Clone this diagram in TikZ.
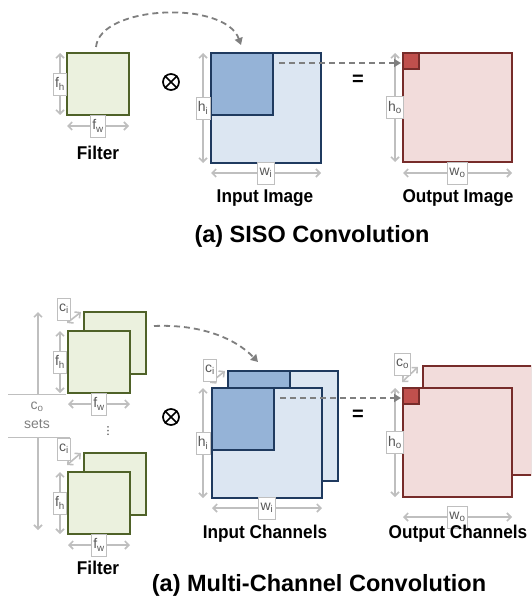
\documentclass[tikz,border=0pt]{standalone}
\usepackage{fontspec}
\setmainfont{Liberation Sans}
\newfontfamily\capfont{Liberation Sans}[FakeStretch=0.93]
\newfontfamily\djv{DejaVu Sans}
\usetikzlibrary{arrows.meta,calc}
\definecolor{fgfill}{HTML}{EBF1DE}
\definecolor{fgdraw}{HTML}{4F6228}
\definecolor{ibfill}{HTML}{DCE6F2}
\definecolor{ibin}{HTML}{95B3D7}
\definecolor{ibdraw}{HTML}{1F3A5F}
\definecolor{orfill}{HTML}{F2DCDB}
\definecolor{orin}{HTML}{C0504D}
\definecolor{ordraw}{HTML}{772C2A}
\definecolor{dimc}{HTML}{BFBFBF}
\definecolor{dashc}{HTML}{7F7F7F}
\definecolor{lblc}{HTML}{595959}
\begin{document}
\begin{tikzpicture}[x=1pt,y=-1pt,
 sqbox/.style={rectangle, anchor=north west, line width=1.8pt, inner sep=0pt, outer sep=0pt, minimum size=#1},
 filt/.style={sqbox=62pt, draw=fgdraw, fill=fgfill},
 inimg/.style={sqbox=110pt, draw=ibdraw, fill=ibfill},
 inpatch/.style={sqbox=62pt, draw=ibdraw, fill=ibin},
 outimg/.style={sqbox=109pt, draw=ordraw, fill=orfill},
 outpx/.style={sqbox=16pt, draw=ordraw, fill=orin},
 dimline/.style={draw=dimc, line width=1.6pt},
 dimarr/.style={dimline, {Straight Barb[length=4pt,width=8pt]}-{Straight Barb[length=4pt,width=8pt]}},
 dimone/.style={dimline, -{Straight Barb[length=4pt,width=8pt]}},
 lbl/.style={fill=white, draw=dimc, line width=0.7pt, inner xsep=1.8pt, inner ysep=1pt, minimum height=22pt, text=lblc, font=\fontsize{14}{14}\selectfont},
 dasharrow/.style={draw=dashc, line width=1.8pt, dash pattern=on 6pt off 4pt, -{Triangle[length=7pt,width=8pt]}},
 capt/.style={font=\capfont\bfseries\fontsize{18.5}{18.5}\selectfont},
 ttl/.style={font=\bfseries\fontsize{23.5}{23.5}\selectfont},
 otimesnode/.style={circle, draw=black, line width=1.7pt, minimum size=16pt, inner sep=0pt},
 crossline/.style={draw=black, line width=1.7pt},
 eqsign/.style={font=\bfseries\fontsize{20}{20}\selectfont},
]
\clip (0,0) rectangle (531,602);

% ---------------- (a) SISO ----------------
\node[filt] (f1) at (67,53) {};
\node[inimg] (i1) at (211,53) {};
\node[inpatch] (i1p) at (211,53) {};
\node[outimg] (o1) at (403,53) {};
\node[outpx] (o1p) at (403,53) {};

\draw[dimarr] ($(f1.north west)+(-7,0)$) -- ($(f1.south west)+(-7,0)$) node[midway,lbl] (lfh1) {f\textsubscript{h}};
\draw[dimarr] ($(f1.south west)+(0,11)$) -- ($(f1.south east)+(0,11)$) node[midway,lbl] (lfw1) {f\textsubscript{w}};
\draw[dimarr] ($(i1.north west)+(-8,0)$) -- ($(i1.south west)+(-8,0)$) node[midway,lbl] (lhi1) {h\textsubscript{i}};
\draw[dimarr] ($(i1.south west)+(0,10)$) -- ($(i1.south east)+(0,10)$) node[midway,lbl] (lwi1) {w\textsubscript{i}};
\draw[dimarr] ($(o1.north west)+(-8,0)$) -- ($(o1.south west)+(-8,0)$) node[midway,lbl] (lho1) {h\textsubscript{o}};
\draw[dimarr] ($(o1.south west)+(0,11)$) -- ($(o1.south east)+(0,11)$) node[midway,lbl] (lwo1) {w\textsubscript{o}};

\node[otimesnode] (ot1) at (171,82) {};
\draw[crossline] (ot1.north east) -- (ot1.south west);
\draw[crossline] (ot1.north west) -- (ot1.south east);
\node[eqsign] (eq1) at (358,80) {=};

\draw[dasharrow] ($(f1.north)+(-2,-6)$) .. controls (100,5) and (225,0) .. ($(i1p.north)+(-1,-8)$);
\draw[dasharrow] ($(i1p.north east)+(6,10)$) -- ($(o1.north west)+(-2,10)$);

\node[capt] (capf1) at (98,153) {Filter};
\node[capt] (capi1) at (265,198) {Input Image};
\node[capt] (capo1) at (458,198) {Output Image};
\node[ttl] (t1) at (312,236) {(a) SISO Convolution};

% ---------------- (b) Multi-channel ----------------
\node[filt] (fb1) at (84,312) {};
\node[filt] (ff1) at (68,331) {};
\node[filt] (fb2) at (84,453) {};
\node[filt] (ff2) at (68,472) {};

\draw[dimarr] ($(ff1.north west)+(-8,0)$) -- ($(ff1.south west)+(-8,0)$) node[midway,lbl] (lfh2) {f\textsubscript{h}};
\draw[dimarr] ($(ff1.south west)+(0,11)$) -- ($(ff1.south east)+(0,11)$) node[midway,lbl] (lfw2) {f\textsubscript{w}};
\draw[dimarr] ($(ff1.north west)+(-1,-8)$) -- ($(ff1.north west)+(13,-19)$);
\node[lbl] (lci2) at ($(ff1.north west)+(-4,-22)$) {c\textsubscript{i}};

\draw[dimarr] ($(ff2.north west)+(-8,0)$) -- ($(ff2.south west)+(-8,0)$) node[midway,lbl] (lfh3) {f\textsubscript{h}};
\draw[dimarr] ($(ff2.south west)+(0,11)$) -- ($(ff2.south east)+(0,11)$) node[midway,lbl] (lfw3) {f\textsubscript{w}};
\draw[dimarr] ($(ff2.north west)+(-1,-7)$) -- ($(ff2.north west)+(13,-19)$);
\node[lbl] (lci3) at ($(ff2.north west)+(-4,-23)$) {c\textsubscript{i}};

% c_o sets bracket
\coordinate (cs1) at (38,394);
\coordinate (cs1t) at (38,312);
\coordinate (cs2) at (38,437);
\coordinate (cs2b) at (38,530);
\coordinate (hl1a) at (8,394);
\coordinate (hl1b) at (66,394);
\coordinate (hl2a) at (8,437);
\coordinate (hl2b) at (70,437);
\draw[dimone] (cs1) -- (cs1t);
\draw[dimone] (cs2) -- (cs2b);
\draw[draw=dimc, line width=0.8pt] (hl1a) -- (hl1b);
\draw[draw=dimc, line width=0.8pt] (hl2a) -- (hl2b);
\node[text=dashc, font=\fontsize{14}{14}\selectfont] (cos) at (37,407) {c\textsubscript{o}};
\node[text=dashc, font=\fontsize{14}{14}\selectfont] (sets) at (37,424) {sets};
\node[font=\djv\fontsize{11}{11}\selectfont, text=black!80] (dots) at (108,431) {⋮};

% input channels
\node[inimg] (ib) at (228,371) {};
\node[inpatch] (ibp) at (228,371) {};
\node[inimg] (if) at (212,388) {};
\node[inpatch] (ifp) at (212,388) {};
\draw[dimarr] ($(if.north west)+(-9,0)$) -- ($(if.south west)+(-9,0)$) node[midway,lbl] (lhi2) {h\textsubscript{i}};
\draw[dimarr] ($(if.south west)+(0,10)$) -- ($(if.south east)+(0,10)$) node[midway,lbl] (lwi2) {w\textsubscript{i}};
\draw[dimarr] ($(if.north west)+(-2,-5)$) -- ($(if.north west)+(13,-17)$);
\node[lbl] (lci4) at ($(if.north west)+(-2,-18)$) {c\textsubscript{i}};

% output channels
\node[outimg] (ob) at (423,366) {};
\node[outimg] (of) at (403,388) {};
\node[outpx] (ofp) at (403,388) {};
\draw[dimarr] ($(of.north west)+(-8,0)$) -- ($(of.south west)+(-8,0)$) node[midway,lbl] (lho2) {h\textsubscript{o}};
\draw[dimarr] ($(of.south west)+(0,20)$) -- ($(of.south east)+(0,20)$) node[midway,lbl] (lwo2) {w\textsubscript{o}};
\draw[dimarr] ($(of.north west)+(-1,-6)$) -- ($(of.north west)+(15,-21)$);
\node[lbl] (lco2) at ($(of.north west)+(-0.5,-24)$) {c\textsubscript{o}};

\node[otimesnode] (ot2) at (171,417) {};
\draw[crossline] (ot2.north east) -- (ot2.south west);
\draw[crossline] (ot2.north west) -- (ot2.south east);
\node[eqsign] (eq2) at (358,415) {=};

\draw[dasharrow] ($(fb1.north east)+(8,14)$) .. controls (200,324) and (235,338) .. ($(ib.north west)+(30,-9)$);
\draw[dasharrow] ($(ifp.north east)+(6,10)$) -- ($(of.north west)+(-2,10)$);

\node[capt] (capf2) at (98,568) {Filter};
\node[capt] (capi2) at (265,534) {Input Channels};
\node[capt] (capo2) at (458,534) {Output Channels};
\node[ttl] (t2) at (319,585) {(a) Multi-Channel Convolution};
\end{tikzpicture}
\end{document}
